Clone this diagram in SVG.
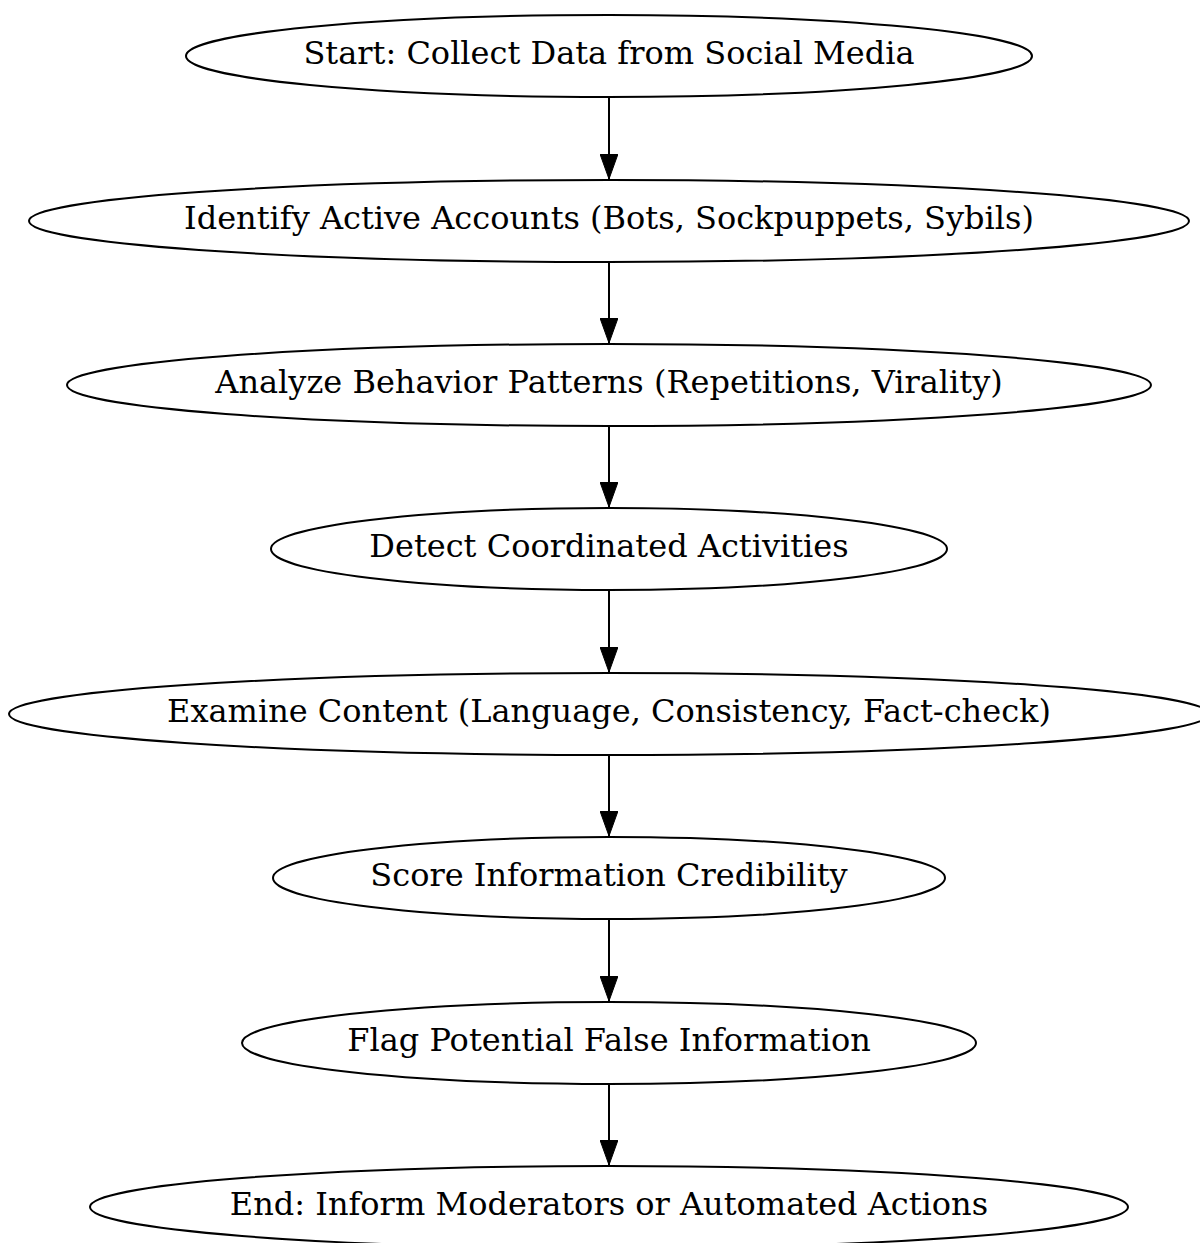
<svg xmlns="http://www.w3.org/2000/svg" width="1200" height="1243" viewBox="0 0 1200 1243">
  <style>
    .node ellipse { fill: none; stroke: #000; stroke-width: 2; }
    .node text { font-family: "DejaVu Serif", "Liberation Serif", serif; font-size: 32px; fill: #000; text-anchor: middle; dominant-baseline: central; }
    .edge line { stroke: #000; stroke-width: 2; }
  </style>
  <defs>
    <marker id="ah" viewBox="0 0 25 18" refX="25" refY="9" markerWidth="25" markerHeight="18" markerUnits="userSpaceOnUse" orient="auto">
      <path d="M0,0 L25,9 L0,18 Z" fill="#000" stroke="#000" stroke-width="1"/>
    </marker>
  </defs>
  <rect width="1200" height="1243" fill="#fff"/>

  <g id="edges" class="edge">
    <line x1="609" y1="97" x2="609" y2="179" marker-end="url(#ah)"/>
    <line x1="609" y1="262" x2="609" y2="343" marker-end="url(#ah)"/>
    <line x1="609" y1="426" x2="609" y2="507" marker-end="url(#ah)"/>
    <line x1="609" y1="590" x2="609" y2="672" marker-end="url(#ah)"/>
    <line x1="609" y1="755" x2="609" y2="836" marker-end="url(#ah)"/>
    <line x1="609" y1="919" x2="609" y2="1001" marker-end="url(#ah)"/>
    <line x1="609" y1="1084" x2="609" y2="1165" marker-end="url(#ah)"/>
  </g>

  <g id="start" class="node">
    <ellipse cx="609" cy="56" rx="423" ry="41"/>
    <text x="609" y="53">Start: Collect Data from Social Media</text>
  </g>
  <g id="identify" class="node">
    <ellipse cx="609" cy="221" rx="580" ry="41"/>
    <text x="609" y="218">Identify Active Accounts (Bots, Sockpuppets, Sybils)</text>
  </g>
  <g id="analyze" class="node">
    <ellipse cx="609" cy="385" rx="542" ry="41"/>
    <text x="609" y="382">Analyze Behavior Patterns (Repetitions, Virality)</text>
  </g>
  <g id="detect" class="node">
    <ellipse cx="609" cy="549" rx="338" ry="41"/>
    <text x="609" y="546">Detect Coordinated Activities</text>
  </g>
  <g id="examine" class="node">
    <ellipse cx="609" cy="714" rx="600" ry="41"/>
    <text x="609" y="711">Examine Content (Language, Consistency, Fact-check)</text>
  </g>
  <g id="score" class="node">
    <ellipse cx="609" cy="878" rx="336" ry="41"/>
    <text x="609" y="875">Score Information Credibility</text>
  </g>
  <g id="flag" class="node">
    <ellipse cx="609" cy="1043" rx="367" ry="41"/>
    <text x="609" y="1040">Flag Potential False Information</text>
  </g>
  <g id="end" class="node">
    <ellipse cx="609" cy="1207" rx="519" ry="41"/>
    <text x="609" y="1204">End: Inform Moderators or Automated Actions</text>
  </g>
</svg>
